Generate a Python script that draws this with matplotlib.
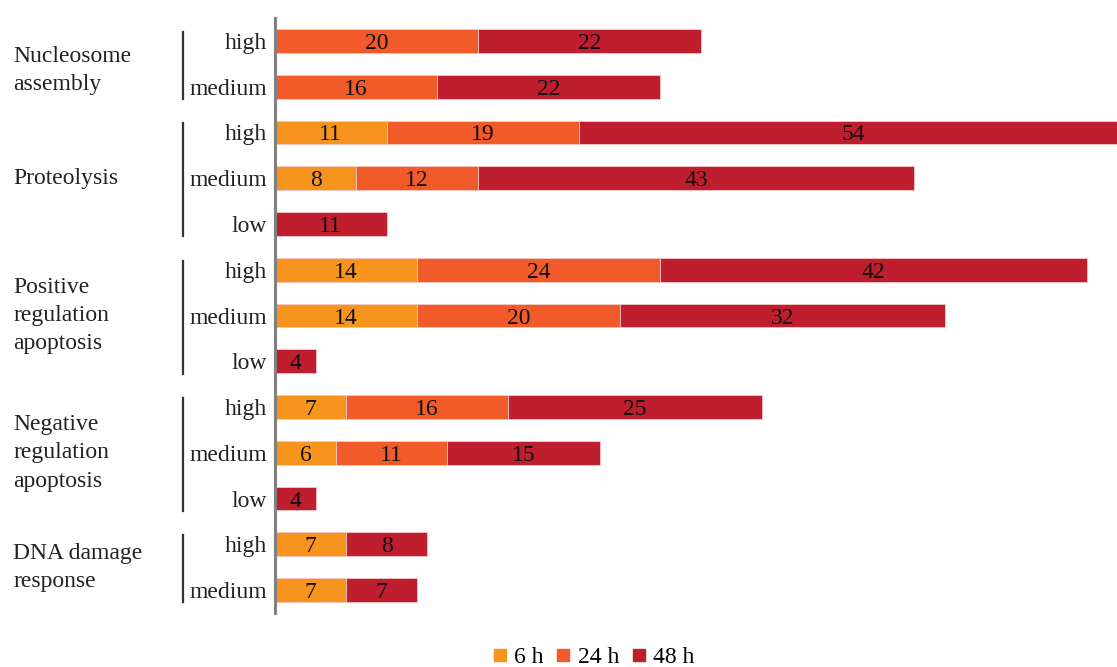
import matplotlib
matplotlib.use("Agg")
import matplotlib.pyplot as plt
from matplotlib.lines import Line2D
from matplotlib.transforms import blended_transform_factory

plt.rcParams["font.family"] = ["Liberation Serif", "DejaVu Serif"]

# GO term groups and their sub-levels (top to bottom)
groups = ["Nucleosome\nassembly", "Proteolysis", "Positive\nregulation\napoptosis",
          "Negative\nregulation\napoptosis", "DNA damage\nresponse"]
levels = [["high", "medium"],
          ["high", "medium", "low"],
          ["high", "medium", "low"],
          ["high", "medium", "low"],
          ["high", "medium"]]

series = ["6 h", "24 h", "48 h"]
colors = ["#F7941D", "#F15A29", "#BE1E2D"]

h6 = [0, 0, 11, 8, 0, 14, 14, 0, 7, 6, 0, 7, 7]
h24 = [20, 16, 19, 12, 0, 24, 20, 0, 16, 11, 0, 0, 0]
h48 = [22, 22, 54, 43, 11, 42, 32, 4, 25, 15, 4, 8, 7]

W, H = 1117, 667
fig = plt.figure(figsize=(W / 100, H / 100), dpi=100)
ax = fig.add_axes([275 / W, 1 - 613 / H, 1 - 275 / W, (613 - 18) / H])

rows = list(range(len(h6)))
left = [0] * len(rows)
for vals, col in zip([h6, h24, h48], colors):
    ax.barh(rows, vals, left=left, height=0.52, color=col,
            edgecolor="#F4C8C8", linewidth=0.6)
    for r, v, l in zip(rows, vals, left):
        if v > 0:
            ax.text(l + v / 2, r, str(v), ha="center", va="center_baseline",
                    fontsize=17, color="#111111")
    left = [a + b for a, b in zip(left, vals)]

ax.set_xlim(0, 83)
ax.set_ylim(len(rows) - 0.5, -0.5)
for s in ["top", "right", "bottom"]:
    ax.spines[s].set_visible(False)
ax.spines["left"].set_color("#808080")
ax.spines["left"].set_linewidth(2.2)
ax.set_xticks([])
ax.set_yticks([])

# level labels, group brackets and group names
tr = blended_transform_factory(fig.transFigure, ax.transData)
r = 0
for i, (g, lv) in enumerate(zip(groups, levels)):
    first, last = r, r + len(lv) - 1
    for name in lv:
        ax.text(267 / W, r, name, transform=tr, ha="right", va="center_baseline",
                fontsize=17, color="#222222")
        r += 1
    ax.plot([183 / W, 183 / W], [first - 0.2, last + 0.27], transform=tr,
            color="#333333", linewidth=1.6, clip_on=False)
    yc = (first + last) / 2 + (0.15 if i == 0 else 0.0)
    ax.text(13 / W, yc, g, transform=tr, ha="left",
            va="center", fontsize=17, color="#222222", linespacing=1.45)

handles = [Line2D([], [], marker="s", linestyle="none", markersize=9,
                  markerfacecolor=c, markeredgecolor=c) for c in colors]
fig.legend(handles, series, loc="center", bbox_to_anchor=(593 / W, 1 - 657 / H),
           ncol=3, frameon=False, fontsize=17, handletextpad=0.25,
           columnspacing=0.5, handlelength=0.7)

fig.savefig("out.png", dpi=100)
